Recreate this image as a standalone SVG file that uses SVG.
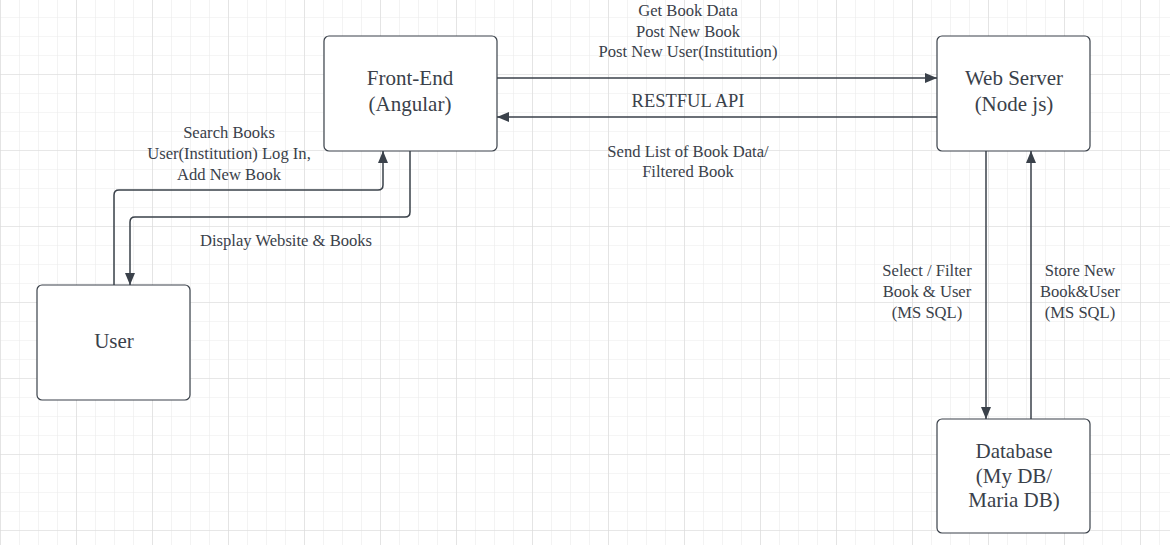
<svg xmlns="http://www.w3.org/2000/svg" width="1170" height="545" viewBox="0 0 1170 545">
<defs>
<pattern id="minor" width="19" height="19" patternUnits="userSpaceOnUse" x="0" y="-2">
<path d="M0 0H19M0 0V19" fill="none" stroke="#ebebeb" stroke-width="1.2"/>
</pattern>
<pattern id="major" width="76" height="76" patternUnits="userSpaceOnUse" x="0" y="-2">
<path d="M0 0H76M0 0V76" fill="none" stroke="#dadada" stroke-width="1.2"/>
</pattern>
<marker id="arr" viewBox="0 0 12 10" refX="12" refY="5" markerWidth="12" markerHeight="10" markerUnits="userSpaceOnUse" orient="auto">
<path d="M0 0L12 5L0 10Z" fill="#3a414a"/>
</marker>
</defs>
<style>
.node rect{fill:#fff;stroke:#3a414a;stroke-width:1.2}
.node text{font-family:"Liberation Serif","DejaVu Serif",serif;font-size:21px;fill:#3a414a;text-anchor:middle}
.lbl{font-family:"Liberation Serif","DejaVu Serif",serif;font-size:16.6px;fill:#3a414a;text-anchor:middle}
#connectors path{fill:none;stroke:#3a414a;stroke-width:1.5;marker-end:url(#arr)}
</style>
<rect width="1170" height="545" fill="#fff"/>
<rect width="1170" height="545" fill="url(#minor)"/>
<rect width="1170" height="545" fill="url(#major)"/>
<g id="connectors">
<path d="M497 78H937"/>
<path d="M937 117H497"/>
<path d="M114 285V195Q114 190 119 190H378Q383 190 383 185V151"/>
<path d="M410 151V212Q410 217 405 217H135Q130 217 130 222V285"/>
<path d="M986 151V419"/>
<path d="M1031 419V151"/>
</g>
<g id="labels">
<text class="lbl" x="688" y="16">Get Book Data</text>
<text class="lbl" x="688" y="37">Post New Book</text>
<text class="lbl" x="688" y="57">Post New User(Institution)</text>
<text class="lbl" x="688" y="107" style="font-size:18.5px">RESTFUL API</text>
<text class="lbl" x="688" y="157">Send List of Book Data/</text>
<text class="lbl" x="688" y="177">Filtered Book</text>
<text class="lbl" x="229" y="138">Search Books</text>
<text class="lbl" x="229" y="159">User(Institution) Log In,</text>
<text class="lbl" x="229" y="180">Add New Book</text>
<text class="lbl" x="286" y="246">Display Website &amp; Books</text>
<text class="lbl" x="927" y="276">Select / Filter</text>
<text class="lbl" x="927" y="297">Book &amp; User</text>
<text class="lbl" x="927" y="318">(MS SQL)</text>
<text class="lbl" x="1080" y="276">Store New</text>
<text class="lbl" x="1080" y="297">Book&amp;User</text>
<text class="lbl" x="1080" y="318">(MS SQL)</text>
</g>
<g id="frontend" class="node">
<rect x="324" y="36" width="173" height="115" rx="5"/>
<text x="410" y="85">Front-End</text>
<text x="410" y="111">(Angular)</text>
</g>
<g id="webserver" class="node">
<rect x="937" y="36" width="153" height="115" rx="5"/>
<text x="1014" y="85">Web Server</text>
<text x="1014" y="111">(Node js)</text>
</g>
<g id="user" class="node">
<rect x="37" y="285" width="153" height="115" rx="5"/>
<text x="114" y="348">User</text>
</g>
<g id="database" class="node">
<rect x="937" y="419" width="153" height="114" rx="5"/>
<text x="1014" y="458">Database</text>
<text x="1014" y="483">(My DB/</text>
<text x="1014" y="507">Maria DB)</text>
</g>
</svg>
